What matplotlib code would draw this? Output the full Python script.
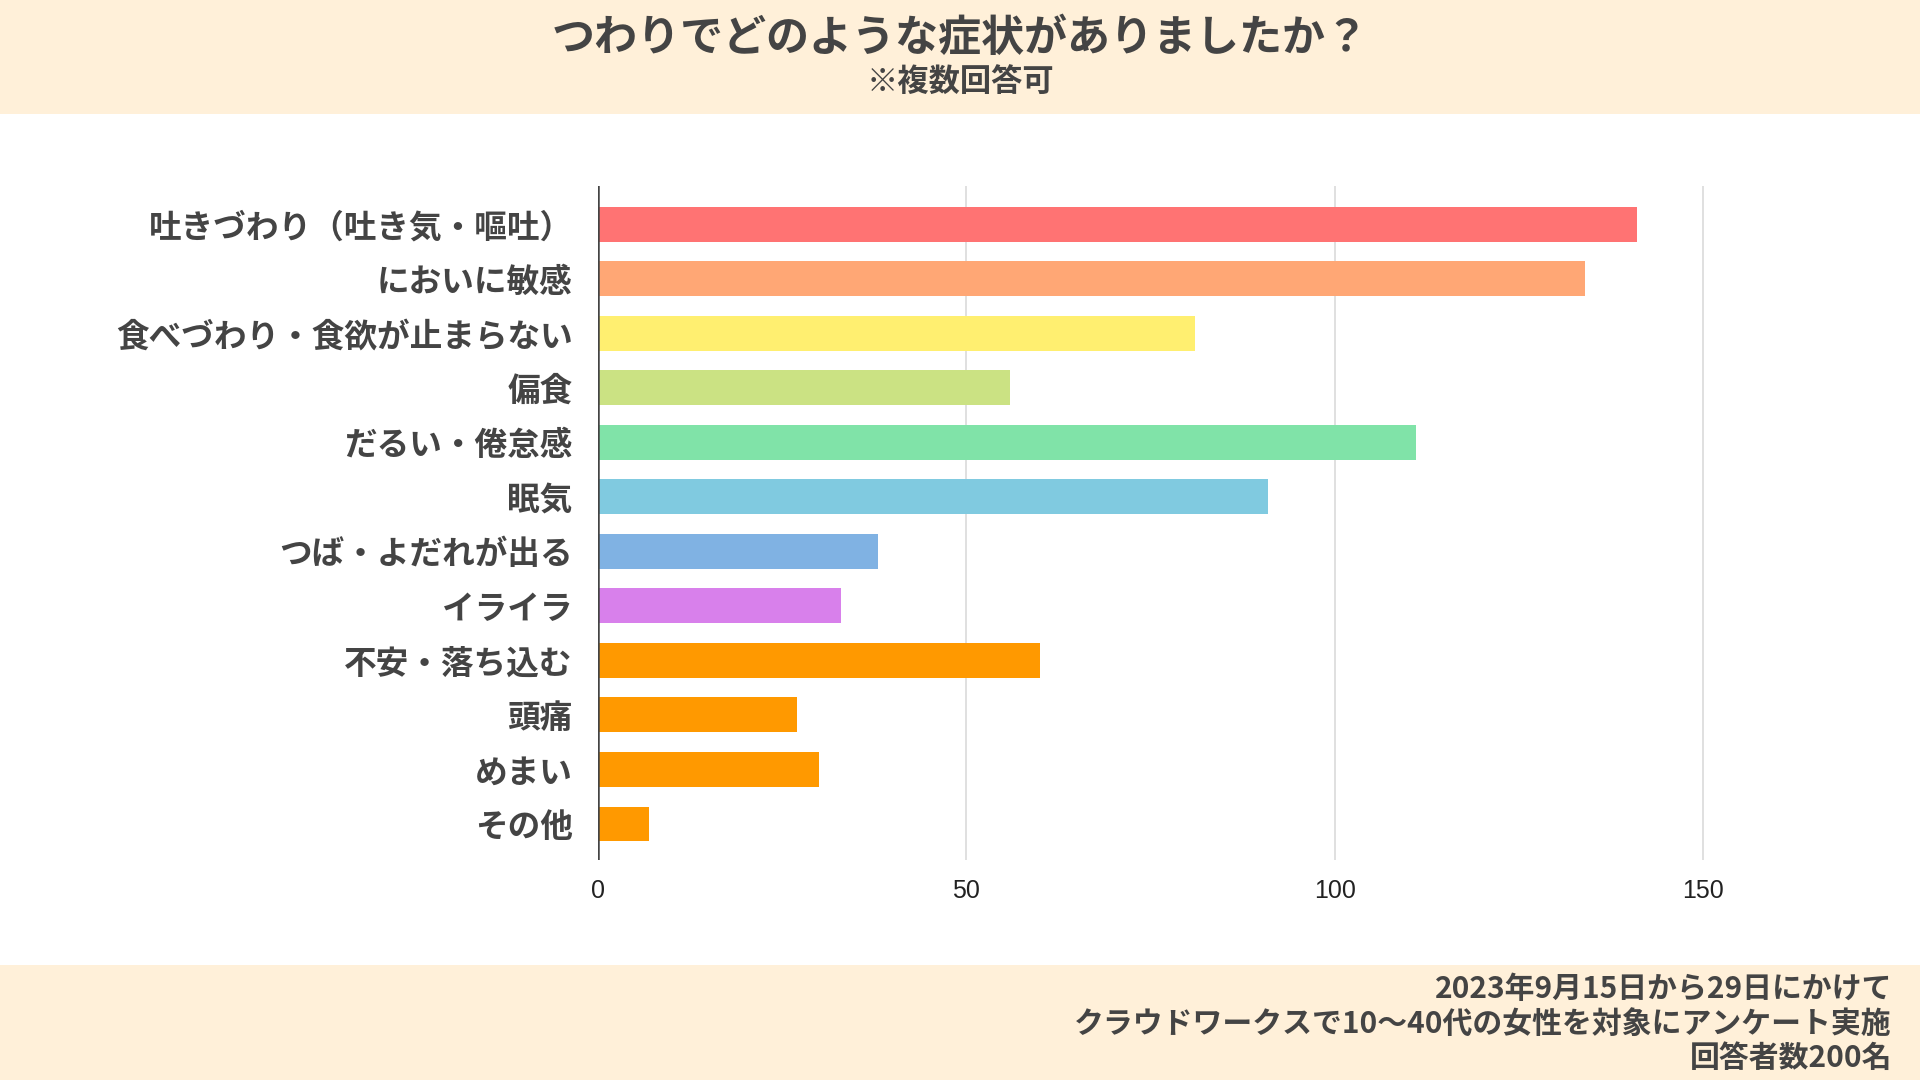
import matplotlib
matplotlib.use("Agg")
import matplotlib.pyplot as plt
from matplotlib.patches import Rectangle

plt.rcParams['font.family'] = ['Noto Sans CJK JP', 'DejaVu Sans']

# data
symptoms = [
    "吐きづわり（吐き気・嘔吐）",
    "においに敏感",
    "食べづわり・食欲が止まらない",
    "偏食",
    "だるい・倦怠感",
    "眠気",
    "つば・よだれが出る",
    "イライラ",
    "不安・落ち込む",
    "頭痛",
    "めまい",
    "その他",
]
counts = [141, 134, 81, 56, 111, 91, 38, 33, 60, 27, 30, 7]
bar_colors = [
    "#FF7373", "#FFA775", "#FFEF70", "#CBE283", "#80E3A8", "#80CAE0",
    "#80B2E3", "#D880EB", "#FF9900", "#FF9900", "#FF9900", "#FF9900",
]
x_ticks = [0, 50, 100, 150]

title = "つわりでどのような症状がありましたか？"
subtitle = "※複数回答可"
footer_lines = [
    "2023年9月15日から29日にかけて",
    "クラウドワークスで10〜40代の女性を対象にアンケート実施",
    "回答者数200名",
]

text_color = "#444444"
band_color = "#FFF0D9"

fig = plt.figure(figsize=(19.2, 10.8), dpi=100)
fig.patch.set_facecolor("white")

# header and footer bands
fig.patches.append(Rectangle((0, 1 - 114 / 1080), 1, 114 / 1080, transform=fig.transFigure,
                             facecolor=band_color, edgecolor="none", zorder=0))
fig.patches.append(Rectangle((0, 0), 1, 115 / 1080, transform=fig.transFigure,
                             facecolor=band_color, edgecolor="none", zorder=0))

fig.text(0.5, 1 - 38 / 1080, title, ha="center", va="center", fontsize=31,
         fontweight="bold", color=text_color)
fig.text(0.5, 1 - 83 / 1080, subtitle, ha="center", va="center", fontsize=22.5,
         fontweight="bold", color=text_color)

for i, line in enumerate(footer_lines):
    fig.text(1892 / 1920, 1 - (989 + i * 34.5) / 1080, line, ha="right", va="center",
             fontsize=21.5, fontweight="bold", color=text_color)

# plot area
ax = fig.add_axes([597.6 / 1920, 220 / 1080, 1289.75 / 1920, 674 / 1080])
ax.set_facecolor("none")
ypos = list(range(len(symptoms)))
ax.barh(ypos, counts, height=0.64, color=bar_colors, zorder=3)

ax.set_xlim(0, 175)
ax.set_ylim(11.66, -0.70)
ax.set_xticks(x_ticks)
ax.set_xticklabels([str(t) for t in x_ticks], fontsize=18, color="#222222",
                   family=["Liberation Sans", "DejaVu Sans"])
ax.set_yticks(ypos)
ax.set_yticklabels(symptoms, fontsize=23.5, fontweight="bold", color=text_color)
ax.tick_params(axis="y", length=0, pad=18)
ax.tick_params(axis="x", length=0, pad=14)

ax.grid(axis="x", color="#DDDDDD", linewidth=1.3, zorder=0)
ax.axvline(0, color="#444444", linewidth=1.8, zorder=4)
for s in ax.spines.values():
    s.set_visible(False)

fig.savefig("out.png", dpi=100, facecolor=fig.get_facecolor())
